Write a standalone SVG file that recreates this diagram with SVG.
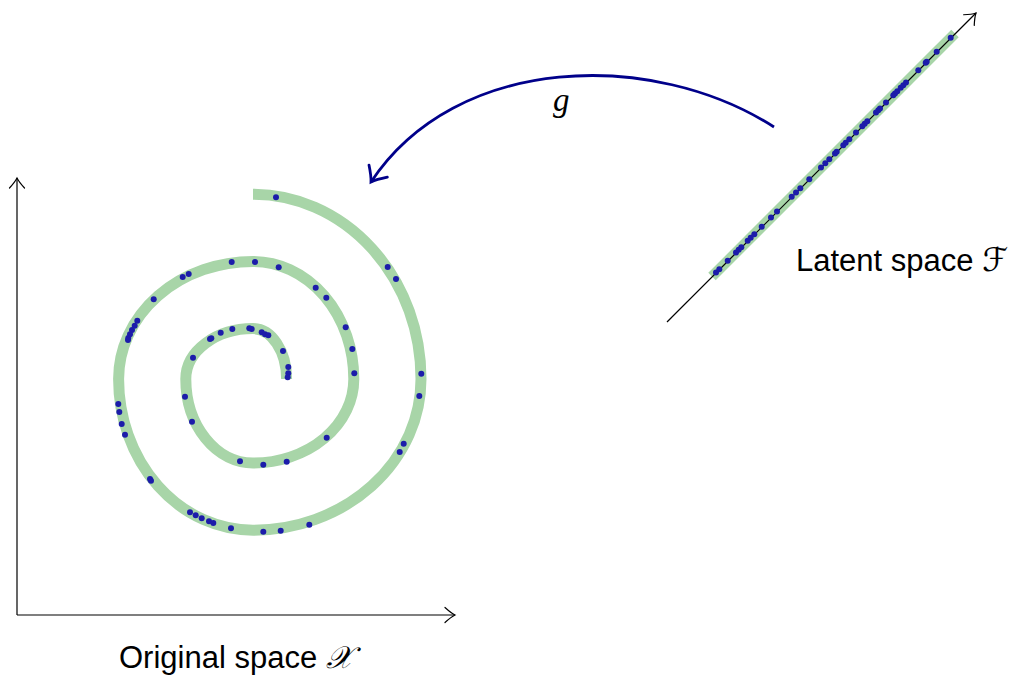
<svg xmlns="http://www.w3.org/2000/svg" width="1017" height="677" viewBox="0 0 1017 677">
<style>
.band{fill:none;stroke:#a8d5a8;stroke-width:11;stroke-linecap:butt;stroke-linejoin:round}
.pt{fill:#1c1caa}
.axis{fill:none;stroke:#000;stroke-width:1.2}
.lbl{font-family:"Liberation Sans",Arial,sans-serif;font-size:31px;fill:#000}
.scr{font-family:"DejaVu Serif","DejaVu Sans","Noto Sans",serif;font-style:italic}
.map{fill:none;stroke:#00008a;stroke-width:2.8}
</style>
<defs>
<marker id="arr" viewBox="-12 -9 14 18" refX="0" refY="0" markerWidth="14" markerHeight="18" markerUnits="userSpaceOnUse" orient="auto" overflow="visible">
<path d="M -10 -7.5 Q -4 -2 0 0 Q -4 2 -10 7.5" fill="none" stroke="#000" stroke-width="1.2" stroke-linecap="round"/>
</marker>
<marker id="arrg" viewBox="-16 -13 18 26" refX="0" refY="0" markerWidth="18" markerHeight="26" markerUnits="userSpaceOnUse" orient="auto" overflow="visible">
<path d="M -13 -11 Q -5 -3 0 0 Q -5 3 -13 11" fill="none" stroke="#00008a" stroke-width="2.8" stroke-linecap="round"/>
</marker>
</defs>
<g id="original-space">
<line class="axis" x1="17" y1="615" x2="17" y2="178" marker-end="url(#arr)"/>
<line class="axis" x1="17" y1="615" x2="455" y2="615" marker-end="url(#arr)"/>
<path class="band" d="M 286.6 379 A 33.6 50.4 0 0 0 253 328.6 A 67.2 50.4 0 0 0 185.8 379 A 67.2 84 0 0 0 253 463 A 100.8 84 0 0 0 353.8 379 A 100.8 117.6 0 0 0 253 261.4 A 134.4 117.6 0 0 0 118.6 379 A 134.4 151.2 0 0 0 253 530.2 A 168 151.2 0 0 0 421 379 A 168 184.8 0 0 0 253 194.2"/>
<g id="spiral-points">
<circle class="pt" cx="276" cy="197.3" r="3"/>
<circle class="pt" cx="387.7" cy="267" r="3"/>
<circle class="pt" cx="396" cy="279" r="3"/>
<circle class="pt" cx="231.7" cy="262" r="3"/>
<circle class="pt" cx="255" cy="262" r="3"/>
<circle class="pt" cx="278.7" cy="267.3" r="3"/>
<circle class="pt" cx="182.7" cy="277" r="3"/>
<circle class="pt" cx="188.7" cy="274" r="3"/>
<circle class="pt" cx="153.7" cy="299.3" r="3"/>
<circle class="pt" cx="315.7" cy="287.7" r="3"/>
<circle class="pt" cx="326.3" cy="297.7" r="3"/>
<circle class="pt" cx="137.3" cy="320.7" r="3"/>
<circle class="pt" cx="134.7" cy="325.7" r="3"/>
<circle class="pt" cx="132" cy="330" r="3"/>
<circle class="pt" cx="130" cy="334.3" r="3"/>
<circle class="pt" cx="128.3" cy="338" r="3"/>
<circle class="pt" cx="128" cy="340" r="3"/>
<circle class="pt" cx="345.7" cy="327.3" r="3"/>
<circle class="pt" cx="352.3" cy="349" r="3"/>
<circle class="pt" cx="354.3" cy="373.3" r="3"/>
<circle class="pt" cx="421.3" cy="373.7" r="3"/>
<circle class="pt" cx="419.3" cy="396" r="3"/>
<circle class="pt" cx="403.7" cy="443.7" r="3"/>
<circle class="pt" cx="399.7" cy="452" r="3"/>
<circle class="pt" cx="326.7" cy="437.7" r="3"/>
<circle class="pt" cx="286.7" cy="461.7" r="3"/>
<circle class="pt" cx="263.3" cy="464.7" r="3"/>
<circle class="pt" cx="240" cy="461.3" r="3"/>
<circle class="pt" cx="118.3" cy="404" r="3"/>
<circle class="pt" cx="119.3" cy="412" r="3"/>
<circle class="pt" cx="121.7" cy="424" r="3"/>
<circle class="pt" cx="125" cy="434.7" r="3"/>
<circle class="pt" cx="150" cy="479" r="3"/>
<circle class="pt" cx="151" cy="480.7" r="3"/>
<circle class="pt" cx="190" cy="512.3" r="3"/>
<circle class="pt" cx="195.7" cy="515.3" r="3"/>
<circle class="pt" cx="201.7" cy="518.3" r="3"/>
<circle class="pt" cx="209" cy="521.3" r="3"/>
<circle class="pt" cx="213.3" cy="523" r="3"/>
<circle class="pt" cx="231" cy="528.3" r="3"/>
<circle class="pt" cx="263.3" cy="531.7" r="3"/>
<circle class="pt" cx="280.7" cy="530.7" r="3"/>
<circle class="pt" cx="309.3" cy="524.7" r="3"/>
<circle class="pt" cx="210" cy="339" r="3"/>
<circle class="pt" cx="211.3" cy="338.3" r="3"/>
<circle class="pt" cx="220.7" cy="332.7" r="3"/>
<circle class="pt" cx="232.3" cy="329" r="3"/>
<circle class="pt" cx="249.3" cy="328.3" r="3"/>
<circle class="pt" cx="251.7" cy="329" r="3"/>
<circle class="pt" cx="261.7" cy="332.3" r="3"/>
<circle class="pt" cx="265" cy="334.3" r="3"/>
<circle class="pt" cx="268.3" cy="335.3" r="3"/>
<circle class="pt" cx="283" cy="351" r="3"/>
<circle class="pt" cx="288.3" cy="367" r="3"/>
<circle class="pt" cx="288.3" cy="373.3" r="3"/>
<circle class="pt" cx="287.7" cy="377.3" r="3"/>
<circle class="pt" cx="193" cy="357.7" r="3"/>
<circle class="pt" cx="185" cy="396.7" r="3"/>
<circle class="pt" cx="192" cy="421.7" r="3"/>
</g>
<text class="lbl" x="119" y="668">Original space <tspan class="scr">𝒳</tspan></text>
</g>
<g id="latent-space">
<line class="band" x1="712" y1="276.5" x2="955" y2="33.5" style="stroke-width:10.5"/>
<line class="axis" x1="667" y1="322" x2="976" y2="13" marker-end="url(#arr)"/>
<g id="latent-points">
<circle class="pt" cx="716" cy="272.5" r="3"/>
<circle class="pt" cx="719.3" cy="269.2" r="3"/>
<circle class="pt" cx="727.7" cy="260.8" r="3"/>
<circle class="pt" cx="736" cy="252.5" r="3"/>
<circle class="pt" cx="738.7" cy="249.8" r="3"/>
<circle class="pt" cx="741.3" cy="247.2" r="3"/>
<circle class="pt" cx="747.7" cy="240.8" r="3"/>
<circle class="pt" cx="750.7" cy="237.8" r="3"/>
<circle class="pt" cx="754.3" cy="234.2" r="3"/>
<circle class="pt" cx="761.7" cy="226.8" r="3"/>
<circle class="pt" cx="771" cy="217.5" r="3"/>
<circle class="pt" cx="777" cy="211.5" r="3"/>
<circle class="pt" cx="791.7" cy="196.8" r="3"/>
<circle class="pt" cx="796" cy="192.5" r="3"/>
<circle class="pt" cx="800.3" cy="188.2" r="3"/>
<circle class="pt" cx="809.3" cy="179.2" r="3"/>
<circle class="pt" cx="821" cy="167.5" r="3"/>
<circle class="pt" cx="825.3" cy="163.2" r="3"/>
<circle class="pt" cx="829.3" cy="159.2" r="3"/>
<circle class="pt" cx="835" cy="153.5" r="3"/>
<circle class="pt" cx="836.7" cy="151.8" r="3"/>
<circle class="pt" cx="843.3" cy="145.2" r="3"/>
<circle class="pt" cx="845.7" cy="142.8" r="3"/>
<circle class="pt" cx="849.3" cy="139.2" r="3"/>
<circle class="pt" cx="856" cy="132.5" r="3"/>
<circle class="pt" cx="862.3" cy="126.2" r="3"/>
<circle class="pt" cx="864.7" cy="123.8" r="3"/>
<circle class="pt" cx="867.3" cy="121.2" r="3"/>
<circle class="pt" cx="876" cy="112.5" r="3"/>
<circle class="pt" cx="878.3" cy="110.2" r="3"/>
<circle class="pt" cx="880" cy="108.5" r="3"/>
<circle class="pt" cx="886" cy="102.5" r="3"/>
<circle class="pt" cx="893.3" cy="95.2" r="3"/>
<circle class="pt" cx="895" cy="93.5" r="3"/>
<circle class="pt" cx="897.3" cy="91.2" r="3"/>
<circle class="pt" cx="900.7" cy="87.8" r="3"/>
<circle class="pt" cx="903.3" cy="85.2" r="3"/>
<circle class="pt" cx="906" cy="82.5" r="3"/>
<circle class="pt" cx="918.3" cy="70.2" r="3"/>
<circle class="pt" cx="925.7" cy="62.8" r="3"/>
<circle class="pt" cx="926.7" cy="61.8" r="3"/>
<circle class="pt" cx="936.7" cy="51.8" r="3"/>
<circle class="pt" cx="950.7" cy="37.8" r="3"/>
</g>
<text class="lbl" x="796" y="271">Latent space <tspan class="scr" style="font-size:33px">ℱ</tspan></text>
</g>
<g id="connectors">
<path id="map-g" class="map" d="M 774 127 C 653 49.3 456 53.5 371 182" marker-end="url(#arrg)"/>
<text x="553" y="111" style="font-family:'Liberation Serif','Times New Roman',serif;font-style:italic;font-size:33px;fill:#000">g</text>
</g>
</svg>
